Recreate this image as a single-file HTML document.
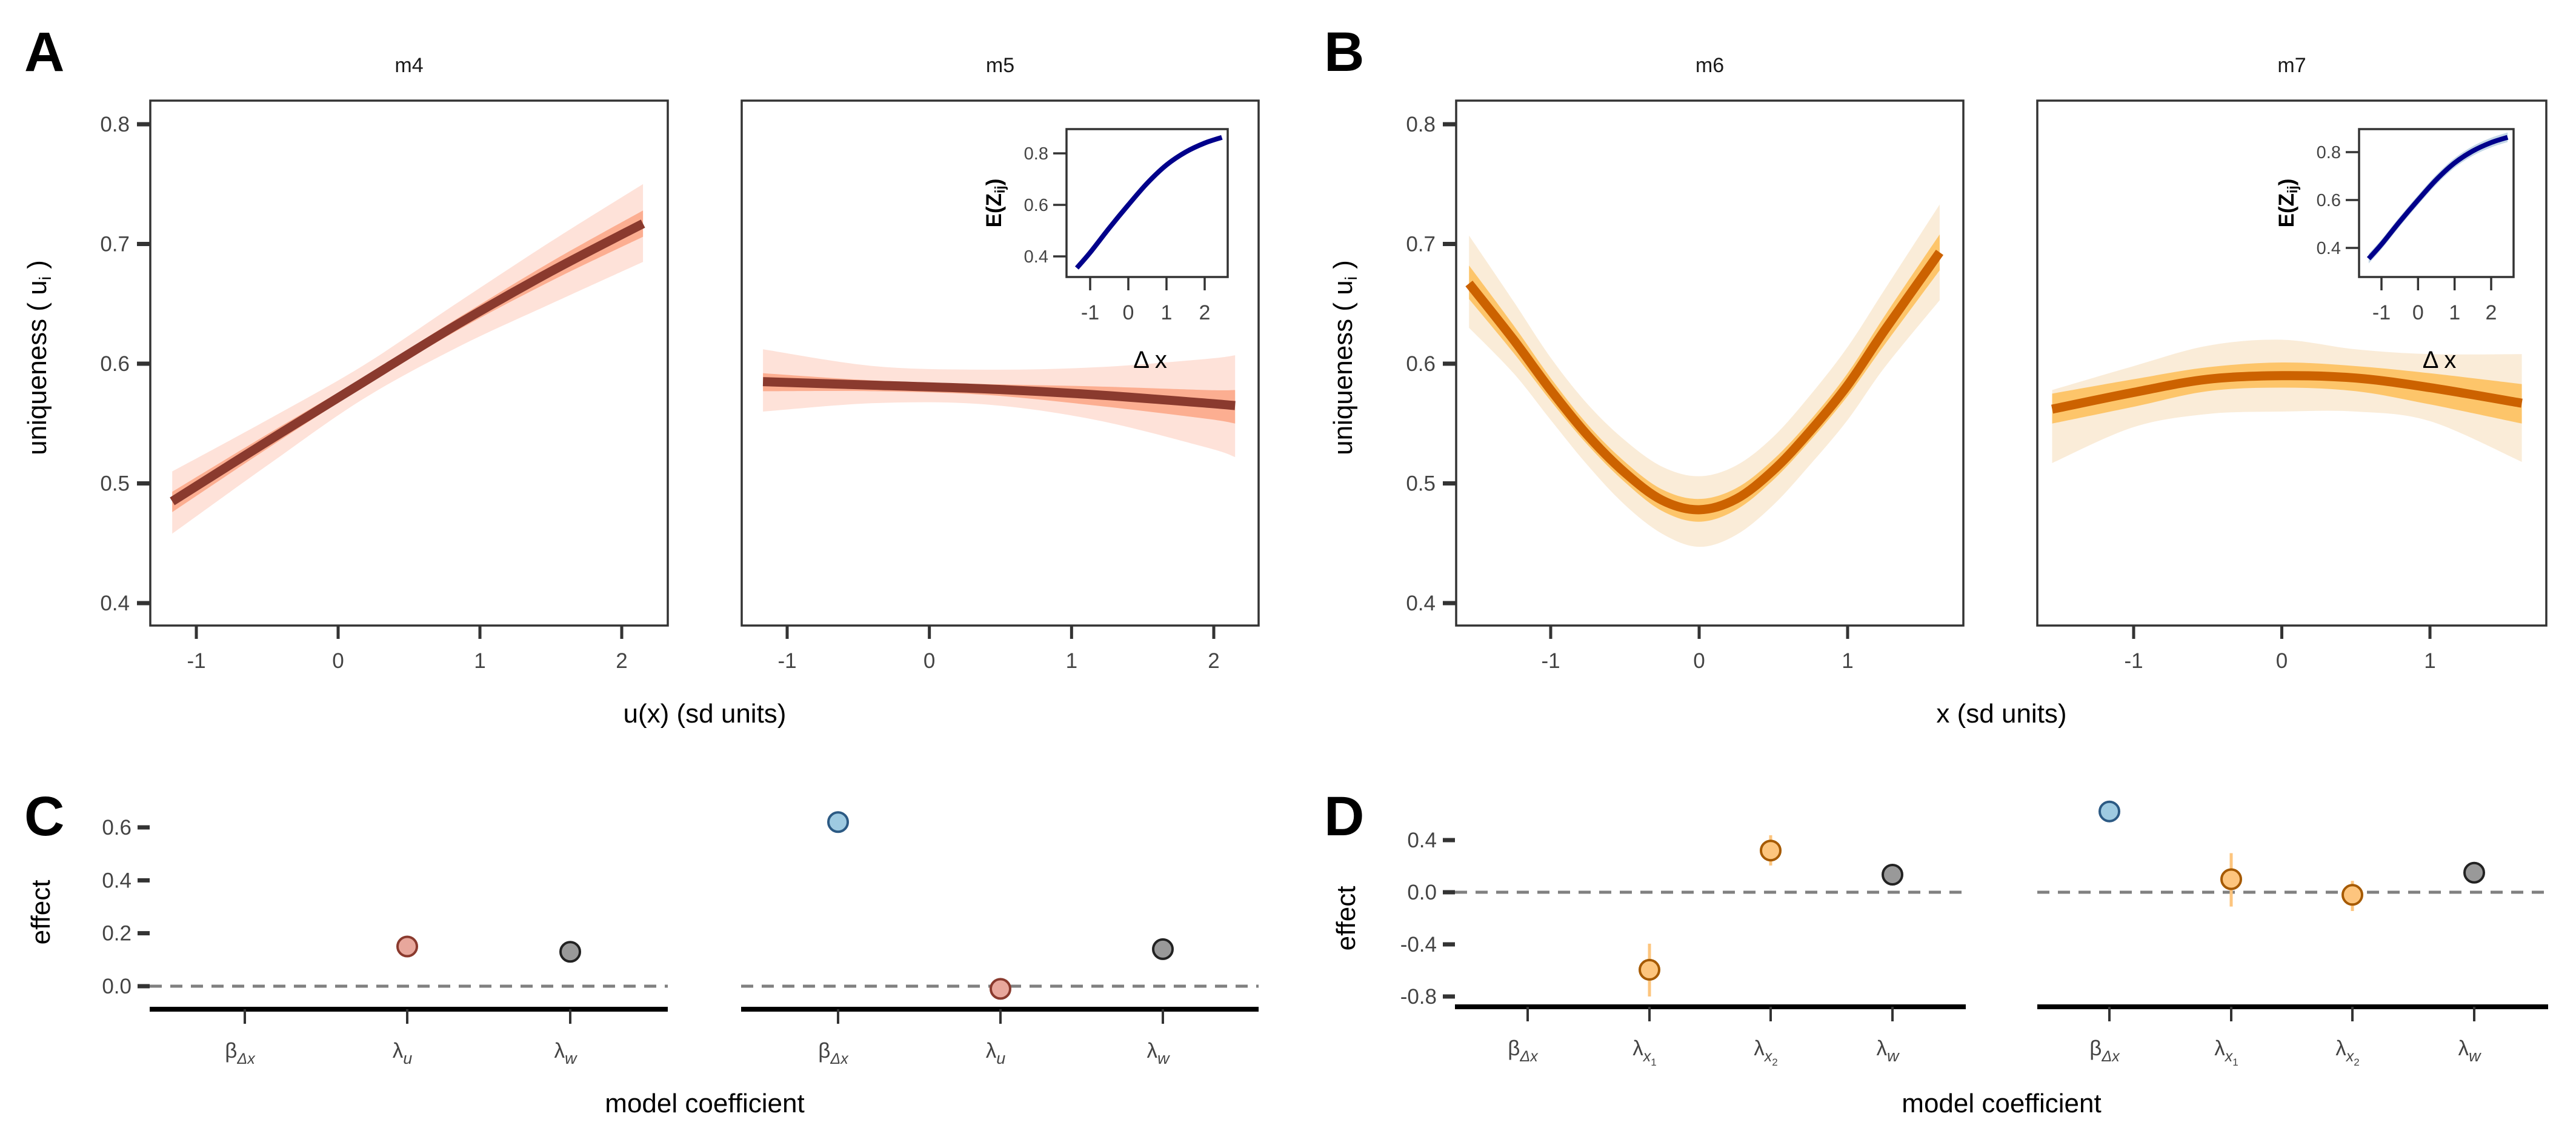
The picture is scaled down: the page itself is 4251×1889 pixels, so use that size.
<!DOCTYPE html>
<html><head><meta charset="utf-8">
<style>
html,body{margin:0;padding:0;background:#fff;}
svg{display:block;font-family:"Liberation Sans",sans-serif;}
</style></head>
<body>
<svg id="fig" width="4251" height="1889" viewBox="0 0 4251 1889" xmlns="http://www.w3.org/2000/svg"></svg>
<script>
// ---------- DATA ----------
const m4X = [-1.17, -0.5, 0.17, 0.83, 1.5, 2.15];
const m4Mean = [0.485, 0.535, 0.584, 0.632, 0.677, 0.717];
const m4InLo = [0.476, 0.529, 0.580, 0.627, 0.669, 0.706];
const m4InHi = [0.493, 0.541, 0.588, 0.637, 0.685, 0.728];
const m4OutLo = [0.458, 0.515, 0.570, 0.613, 0.650, 0.685];
const m4OutHi = [0.510, 0.553, 0.598, 0.650, 0.702, 0.750];
const m5X = [-1.17, -0.39, 0.39, 1.17, 1.95, 2.15];
const m5Mean = [0.585, 0.582, 0.579, 0.574, 0.567, 0.565];
const m5InLo = [0.577, 0.577, 0.574, 0.565, 0.554, 0.550];
const m5InHi = [0.592, 0.586, 0.583, 0.581, 0.578, 0.578];
const m5OutLo = [0.560, 0.567, 0.566, 0.553, 0.530, 0.522];
const m5OutHi = [0.612, 0.598, 0.595, 0.597, 0.604, 0.607];
const m6X = [-1.55, -1.25, -1.0, -0.75, -0.5, -0.25, 0, 0.25, 0.5, 0.75, 1.0, 1.25, 1.62];
const m6Mean = [0.667, 0.620, 0.578, 0.540, 0.509, 0.486, 0.478, 0.487, 0.511, 0.544, 0.582, 0.628, 0.693];
const m6InLo = [0.654, 0.609, 0.569, 0.532, 0.501, 0.477, 0.468, 0.478, 0.503, 0.536, 0.573, 0.616, 0.678];
const m6InHi = [0.682, 0.632, 0.588, 0.549, 0.518, 0.495, 0.487, 0.496, 0.520, 0.553, 0.592, 0.640, 0.708];
const m6OutLo = [0.630, 0.592, 0.553, 0.515, 0.482, 0.458, 0.447, 0.457, 0.482, 0.516, 0.553, 0.597, 0.653];
const m6OutHi = [0.707, 0.652, 0.605, 0.566, 0.536, 0.514, 0.506, 0.515, 0.539, 0.574, 0.614, 0.662, 0.733];
const m7X = [-1.55, -1.0, -0.5, 0, 0.5, 1.0, 1.62];
const m7Mean = [0.562, 0.576, 0.587, 0.590, 0.588, 0.580, 0.567];
const m7InLo = [0.550, 0.564, 0.577, 0.580, 0.577, 0.566, 0.550];
const m7InHi = [0.575, 0.587, 0.597, 0.601, 0.598, 0.592, 0.583];
const m7OutLo = [0.517, 0.547, 0.558, 0.560, 0.560, 0.552, 0.518];
const m7OutHi = [0.578, 0.598, 0.615, 0.620, 0.612, 0.608, 0.608];
const insetX = [-1.35, -1.0, -0.5, 0, 0.5, 1.0, 1.5, 2.0, 2.45];
const insetY = [0.355, 0.415, 0.51, 0.60, 0.685, 0.755, 0.805, 0.840, 0.862];
const cVals1 = [null, 0.15, 0.13];
const cVals2 = [0.62, -0.01, 0.14];
const dVals1 = [null, -0.595, 0.32, 0.135];
const dLo1 = [null, -0.80, 0.205, null];
const dHi1 = [null, -0.395, 0.437, null];
const dVals2 = [0.62, 0.10, -0.02, 0.15];
const dLo2 = [null, -0.11, -0.144, null];
const dHi2 = [null, 0.30, 0.087, null];
const yTicksTop = [0.4, 0.5, 0.6, 0.7, 0.8];
const yTicksC = [0.0, 0.2, 0.4, 0.6];
const yTicksD = [-0.8, -0.4, 0.0, 0.4];
const insetTicksY = [0.4, 0.6, 0.8];
const insetTicksX = [-1, 0, 1, 2];

// ---------- HELPERS ----------
const NS = "http://www.w3.org/2000/svg";
const svg = document.getElementById("fig");
function mk(tag, attrs, parent, text){
  const e = document.createElementNS(NS, tag);
  for (const k in attrs) e.setAttribute(k, attrs[k]);
  if (text !== undefined) e.textContent = text;
  (parent || svg).appendChild(e);
  return e;
}
function lin(d0, d1, r0, r1){ return v => r0 + (v - d0) * (r1 - r0) / (d1 - d0); }
function fmt(v, d){ return v.toFixed(d); }
const yTop = lin(0.4, 0.8, 995, 205);
const TICK = 35;

function smoothPath(xs, ys){
  let d = "M" + xs[0] + "," + ys[0];
  for (let i = 0; i < xs.length - 1; i++){
    const x0 = xs[Math.max(0,i-1)], y0 = ys[Math.max(0,i-1)];
    const x1 = xs[i], y1 = ys[i], x2 = xs[i+1], y2 = ys[i+1];
    const x3 = xs[Math.min(xs.length-1,i+2)], y3 = ys[Math.min(xs.length-1,i+2)];
    const c1x = x1 + (x2-x0)/6, c1y = y1 + (y2-y0)/6;
    const c2x = x2 - (x3-x1)/6, c2y = y2 - (y3-y1)/6;
    d += " C" + c1x + "," + c1y + " " + c2x + "," + c2y + " " + x2 + "," + y2;
  }
  return d;
}
function bandPath(xs, lo, hi, xs_, ys_){
  const px = xs.map(xs_);
  const top = smoothPath(px, hi.map(ys_));
  const rx = px.slice().reverse(), rl = lo.map(ys_).reverse();
  const bot = smoothPath(rx, rl).replace(/^M/, "L");
  return top + " " + bot + " Z";
}

function panelTop(opts){
  const g = mk("g", {});
  
  
  const {left, right, top, bottom} = opts;
  const xs = lin(opts.x0v, opts.x1v, opts.x0p, opts.x1p);
  const st = mk("text", {x:(left+right)/2, y:119, "font-size":34, "text-anchor":"middle", fill:"#1a1a1a"}, g, opts.strip);
  
  
  const ob = mk("path", {d: bandPath(opts.X, opts.outLo, opts.outHi, xs, yTop), fill: opts.outer}, g);
  
  
  const ib = mk("path", {d: bandPath(opts.X, opts.inLo, opts.inHi, xs, yTop), fill: opts.inner}, g);
  
  
  const ml = mk("path", {d: smoothPath(opts.X.map(xs), opts.mean.map(yTop)), fill:"none", stroke: opts.line, "stroke-width": 15}, g);
  
  
  const fr = mk("rect", {x:left, y:top, width:right-left, height:bottom-top, fill:"none", stroke:"#333", "stroke-width":3.5}, g);
  
  
  opts.xticks.forEach(t => {
    const x = xs(t);
    mk("line", {x1:x, x2:x, y1:bottom, y2:bottom+22, stroke:"#333", "stroke-width":5}, g);
    const tl = mk("text", {x:x, y:bottom+70, "font-size":TICK, "text-anchor":"middle", fill:"#444"}, g, String(t));
    
    
  });
  if (opts.yaxis){
    yTicksTop.forEach(t => {
      const y = yTop(t);
      mk("line", {x1:left-22, x2:left, y1:y, y2:y, stroke:"#333", "stroke-width":7}, g);
      const tl = mk("text", {x:left-34, y:y+12, "font-size":TICK, "text-anchor":"end", fill:"#444"}, g, fmt(t,1));
      
      
    });
    const yt = mk("text", {transform:"translate("+(left-172)+",590) rotate(-90)", "font-size":44, "text-anchor":"middle", fill:"#000"}, g);
    
    
    mk("tspan", {}, yt, "uniqueness ( u");
    mk("tspan", {"font-size":28, dy:8}, yt, "i");
    mk("tspan", {dy:-8}, yt, " )");
  }
  if (opts.inset){
    const I = opts.inset;
    const ix = lin(-1, 2, I.tx0, I.tx1);
    const iy = lin(0.4, 0.8, I.y04, I.y08);
    const ig = mk("g", {}, g);
    
    
    if (I.band){
      const lo = insetY.map(v => v - 0.02), hi = insetY.map(v => v + 0.02);
      mk("path", {d: bandPath(insetX, lo, hi, ix, iy), fill:"#c3d6e6"}, ig);
    }
    mk("path", {d: smoothPath(insetX.map(ix), insetY.map(iy)), fill:"none", stroke:"#00008b", "stroke-width":8}, ig);
    mk("rect", {x:I.l, y:I.t, width:I.r-I.l, height:I.b-I.t, fill:"none", stroke:"#333", "stroke-width":3.5}, ig);
    insetTicksY.forEach(t => {
      const y = iy(t);
      mk("line", {x1:I.l-22, x2:I.l, y1:y, y2:y, stroke:"#333", "stroke-width":3.5}, ig);
      mk("text", {x:I.l-30, y:y+10, "font-size":29, "text-anchor":"end", fill:"#444"}, ig, fmt(t,1));
    });
    insetTicksX.forEach(t => {
      const x = ix(t);
      mk("line", {x1:x, x2:x, y1:I.b, y2:I.b+22, stroke:"#333", "stroke-width":3.5}, ig);
      mk("text", {x:x, y:I.b+70, "font-size":34, "text-anchor":"middle", fill:"#444"}, ig, String(t));
    });
    const it = mk("text", {transform:"translate("+(I.l-108)+","+((I.t+I.b)/2)+") rotate(-90)", "font-size":35, "font-weight":"bold", "text-anchor":"middle", fill:"#000"}, ig);
    mk("tspan", {}, it, "E(Z");
    mk("tspan", {"font-size":23, dy:6, "font-weight":"bold"}, it, "ij");
    mk("tspan", {dy:-6}, it, ")");
    const dx = mk("text", {x:(I.l+I.r)/2+5, y:I.b+150, "font-size":40, "text-anchor":"middle", fill:"#000"}, ig, "Δ x");
    
    
  }
}

panelTop({name:"panel-m4", strip:"m4", left:248, right:1102, top:166, bottom:1032,
  x0v:-1, x1v:2, x0p:324, x1p:1026, xticks:[-1,0,1,2], yaxis:true,
  X:m4X, mean:m4Mean, inLo:m4InLo, inHi:m4InHi, outLo:m4OutLo, outHi:m4OutHi,
  line:"#8a3a2e", inner:"#fcae91", outer:"#fee2d9"});
panelTop({name:"panel-m5", strip:"m5", left:1224, right:2077, top:166, bottom:1032,
  x0v:-1, x1v:2, x0p:1299, x1p:2003, xticks:[-1,0,1,2], yaxis:false,
  X:m5X, mean:m5Mean, inLo:m5InLo, inHi:m5InHi, outLo:m5OutLo, outHi:m5OutHi,
  line:"#8a3a2e", inner:"#fcae91", outer:"#fee2d9",
  inset:{l:1760, r:2026, t:213, b:457, tx0:1799, tx1:1988, y04:423, y08:253, band:false}});
panelTop({name:"panel-m6", strip:"m6", left:2403, right:3240, top:166, bottom:1032,
  x0v:-1, x1v:1, x0p:2559, x1p:3049, xticks:[-1,0,1], yaxis:true,
  X:m6X, mean:m6Mean, inLo:m6InLo, inHi:m6InHi, outLo:m6OutLo, outHi:m6OutHi,
  line:"#cc6200", inner:"#fdc56a", outer:"#faecd8"});
panelTop({name:"panel-m7", strip:"m7", left:3362, right:4202, top:166, bottom:1032,
  x0v:-1, x1v:1, x0p:3521, x1p:4010, xticks:[-1,0,1], yaxis:false,
  X:m7X, mean:m7Mean, inLo:m7InLo, inHi:m7InHi, outLo:m7OutLo, outHi:m7OutHi,
  line:"#cc6200", inner:"#fdc56a", outer:"#faecd8",
  inset:{l:3893, r:4148, t:213, b:457, tx0:3930, tx1:4111, y04:409, y08:251, band:true}});

let t1 = mk("text", {x:1163, y:1192, "font-size":44, "text-anchor":"middle", fill:"#000"}, svg, "u(x) (sd units)");


let t2 = mk("text", {x:3303, y:1192, "font-size":44, "text-anchor":"middle", fill:"#000"}, svg, "x (sd units)");



[["A",40,117],["B",2185,117],["C",40,1378],["D",2185,1378]].forEach(p => {
  const l = mk("text", {x:p[1], y:p[2], "font-size":92, "font-weight":"bold", fill:"#000"}, svg, p[0]);
  
  
});

const pointStyles = {
  beta:{fill:"#9ecae1", stroke:"#2c5a84"},
  lu:{fill:"#e8a79c", stroke:"#8a3a2e"},
  lx:{fill:"#fdc57e", stroke:"#a65a00"},
  lw:{fill:"#999999", stroke:"#222"}
};
function labelTspans(parent, kind){
  if (kind === "beta"){ mk("tspan", {}, parent, "β"); mk("tspan", {"font-size":25, dy:10, "font-style":"italic"}, parent, "Δx"); }
  else if (kind === "lu"){ mk("tspan", {}, parent, "λ"); mk("tspan", {"font-size":27, dy:10, "font-style":"italic"}, parent, "u"); }
  else if (kind === "lw"){ mk("tspan", {}, parent, "λ"); mk("tspan", {"font-size":27, dy:10, "font-style":"italic"}, parent, "w"); }
  else if (kind === "lx1" || kind === "lx2"){
    mk("tspan", {}, parent, "λ"); mk("tspan", {"font-size":25, dy:10, "font-style":"italic"}, parent, "x");
    mk("tspan", {"font-size":17, dy:7}, parent, kind === "lx1" ? "1" : "2");
  }
}
function coefPanel(o){
  const g = mk("g", {});
  
  
  const ys = lin(o.v0, o.v1, o.p0, o.p1);
  const zl = mk("line", {x1:o.left, x2:o.right, y1:ys(0), y2:ys(0), stroke:"#808080", "stroke-width":5, "stroke-dasharray":"20,14"}, g);
  
  
  mk("line", {x1:o.left, x2:o.right, y1:o.axisY, y2:o.axisY, stroke:"#000", "stroke-width":8}, g);
  o.cats.forEach((c, i) => {
    const x = o.xs[i];
    mk("line", {x1:x, x2:x, y1:o.axisY, y2:o.axisY+24, stroke:"#333", "stroke-width":4}, g);
    const tl = mk("text", {x:x-8, y:o.axisY+80, "font-size":TICK, "text-anchor":"middle", fill:"#444"}, g);
    
    
    labelTspans(tl, c);
    if (o.hi && o.hi[i] !== null){
      const ci = mk("line", {x1:x, x2:x, y1:ys(o.lo[i]), y2:ys(o.hi[i]), stroke:"#fdc57e", "stroke-width":5}, g);
      
      
    }
    if (o.vals[i] !== null){
      const st = pointStyles[c.startsWith("lx") ? "lx" : c];
      const pt = mk("circle", {cx:x, cy:ys(o.vals[i]), r:16, fill:st.fill, stroke:st.stroke, "stroke-width":4}, g);
      
      
    }
  });
  if (o.ticks){
    o.ticks.forEach(t => {
      const y = ys(t);
      mk("line", {x1:o.left-20, x2:o.left, y1:y, y2:y, stroke:"#333", "stroke-width":7}, g);
      const tl = mk("text", {x:o.left-30, y:y+12, "font-size":TICK, "text-anchor":"end", fill:"#444"}, g, fmt(t,1));
      
      
    });
    const yt = mk("text", {transform:"translate("+(o.left-165)+","+o.titleY+") rotate(-90)", "font-size":44, "text-anchor":"middle", fill:"#000"}, g, "effect");
    
    
  }
}
coefPanel({name:"panel-c1", left:247, right:1102, axisY:1665, v0:0, v1:0.6, p0:1627, p1:1365,
  cats:["beta","lu","lw"], xs:[404,672,941], vals:cVals1, ticks:yTicksC, titleY:1505});
coefPanel({name:"panel-c2", left:1223, right:2077, axisY:1665, v0:0, v1:0.6, p0:1627, p1:1365,
  cats:["beta","lu","lw"], xs:[1383,1651,1919], vals:cVals2});
coefPanel({name:"panel-d1", left:2401, right:3244, axisY:1661, v0:0, v1:0.4, p0:1472, p1:1386,
  cats:["beta","lx1","lx2","lw"], xs:[2521,2722,2922,3123], vals:dVals1, lo:dLo1, hi:dHi1, ticks:yTicksD, titleY:1515});
coefPanel({name:"panel-d2", left:3362, right:4205, axisY:1661, v0:0, v1:0.4, p0:1472, p1:1386,
  cats:["beta","lx1","lx2","lw"], xs:[3481,3682,3882,4083], vals:dVals2, lo:dLo2, hi:dHi2});

let t3 = mk("text", {x:1163, y:1835, "font-size":44, "text-anchor":"middle", fill:"#000"}, svg, "model coefficient");


let t4 = mk("text", {x:3303, y:1835, "font-size":44, "text-anchor":"middle", fill:"#000"}, svg, "model coefficient");


</script>
</body></html>
